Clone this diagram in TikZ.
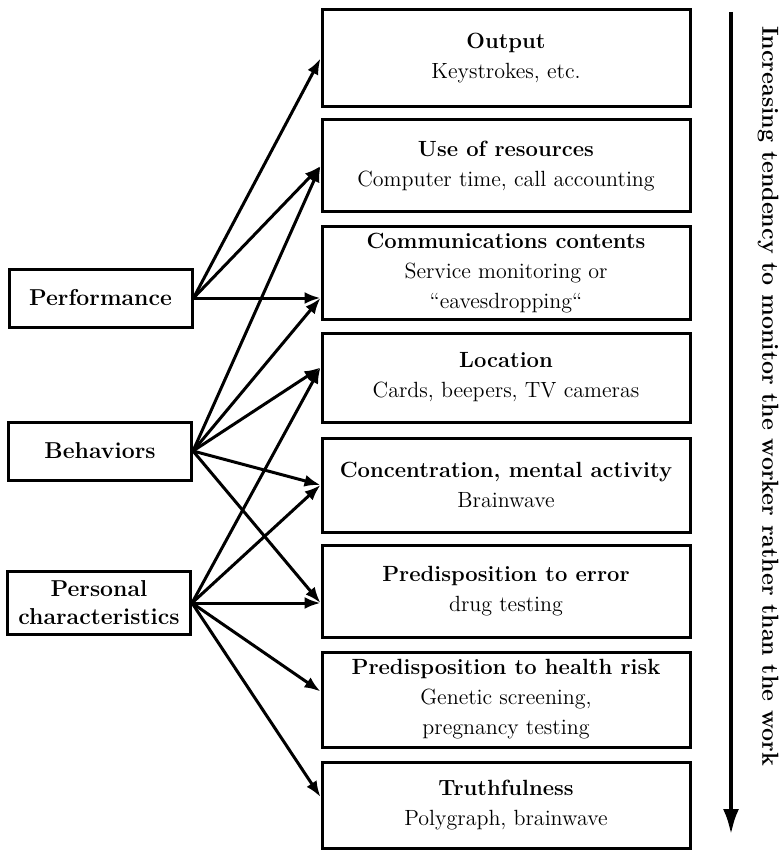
\documentclass[tikz,border=0pt]{standalone}
\usepackage{tikz}
\usetikzlibrary{arrows.meta}
\tikzset{src/.style = {draw, line width=1.5pt, minimum width=91.5pt, minimum height=29pt,
                       align=center, font=\fontsize{11.5}{14}\selectfont\bfseries}}
\tikzset{kind/.style = {draw, line width=1.5pt, minimum width=184pt, align=center,
                        font=\fontsize{11}{15}\selectfont}}
\tikzset{link/.style = {line width=1.5pt, -{Latex[length=8pt,width=6pt]}}}

\begin{document}
\begin{tikzpicture}[x=0.5pt, y=-0.5pt]
    \useasboundingbox (0,0) rectangle (781,850);

    \node [src] (perf) at (100.5,298) {Performance};
    \node [src] (beh) at (100,451) {Behaviors};
    \node [src, minimum height=31.5pt] (pers) at (99,603) {Personal\\characteristics};

    \node [kind, minimum height=48.5pt] (out) at (506,58.5) {\textbf{Output}\\Keystrokes, etc.};
    \node [kind, minimum height=46pt] (res) at (506,166) {\textbf{Use of resources}\\Computer time, call accounting};
    \node [kind, minimum height=45pt] (comm) at (506,273) {\textbf{Communications contents}\\Service monitoring or\\“eavesdropping“};
    \node [kind, minimum height=44.5pt] (loc) at (506,377.5) {\textbf{Location}\\Cards, beepers, TV cameras};
    \node [kind, minimum height=47pt] (conc) at (506,485) {\textbf{Concentration, mental activity}\\Brainwave};
    \node [kind, minimum height=46pt] (err) at (506,591) {\textbf{Predisposition to error}\\drug testing};
    \node [kind, minimum height=47.5pt] (risk) at (506,699.5) {\textbf{Predisposition to health risk}\\Genetic screening,\\pregnancy testing};
    \node [kind, minimum height=43pt] (truth) at (506,805) {\textbf{Truthfulness}\\Polygraph, brainwave};

    \draw [link] (perf.east) -- (out.west);
    \draw [link] (perf.east) -- (res.west);
    \draw [link] (perf.east) -- (comm.west |- perf.east);

    \draw [link] (beh.east) -- (res.west);
    \draw [link] (beh.east) -- (comm.west |- perf.east);
    \draw [link] (beh.east) -- ([yshift=5pt]loc.west);
    \draw [link] (beh.east) -- (conc.west);
    \draw [link] (beh.east) -- (err.west |- pers.east);

    \draw [link] (pers.east) -- ([yshift=5pt]loc.west);
    \draw [link] (pers.east) -- (conc.west);
    \draw [link] (pers.east) -- (err.west |- pers.east);
    \draw [link] (pers.east) -- ([yshift=4pt]risk.west);
    \draw [link] (pers.east) -- ([yshift=4pt]truth.west);

    \coordinate (top) at (731,12);
    \coordinate (bottom) at (731,835);
    \draw [line width=2.2pt, -{Latex[length=13pt,width=8pt]}] (top) -- (bottom);
    \node [rotate=-90, font=\fontsize{11.6}{13}\selectfont\bfseries] (trend) at (768,396)
        {Increasing tendency to monitor the worker rather than the work};
\end{tikzpicture}
\end{document}
